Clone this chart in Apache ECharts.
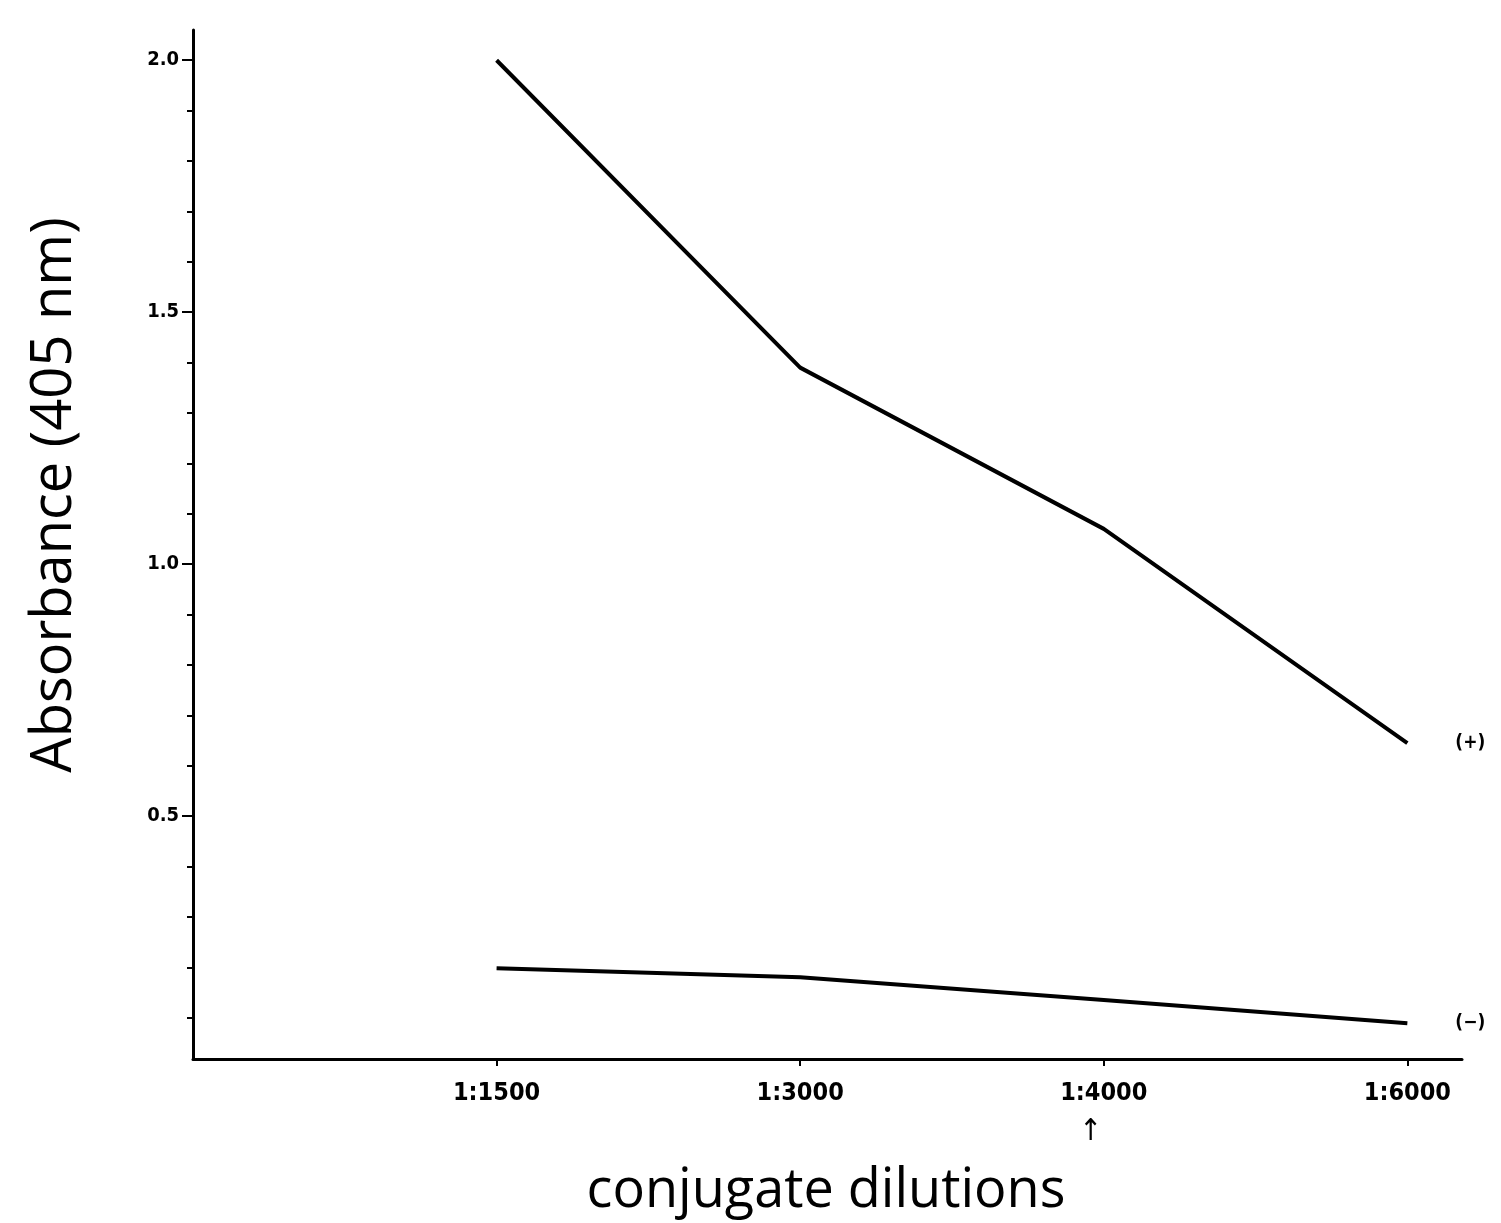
<!DOCTYPE html>
<html><head><meta charset="utf-8">
<script src="https://cdn.jsdelivr.net/npm/echarts@6/dist/echarts.min.js"></script>
<style>html,body{margin:0;padding:0;background:#fff}#c{width:1501px;height:1223px}</style>
</head><body><div id="c"></div>
<script>
const categories = ['1:1500', '1:3000', '1:4000', '1:6000'];
const positiveValues = [2.0, 1.39, 1.07, 0.645];
const negativeValues = [0.198, 0.18, 0.135, 0.089];
const yMajorTicks = [0.5, 1.0, 1.5, 2.0];
const yMinorTicks = [0.1,0.2,0.3,0.4,0.6,0.7,0.8,0.9,1.1,1.2,1.3,1.4,1.6,1.7,1.8,1.9];
const seriesLabels = ['(+)', '(\u2212)'];
const markedCategory = '1:4000';

const chart = echarts.init(document.getElementById('c'));
const catPositions = categories.map((c, i) => i + 1);
const toData = vals => vals.map((v, i) => [catPositions[i], v]);
const fontLbl = "'Liberation Sans Narrow', 'DejaVu Sans Condensed', sans-serif";
const mkSeries = (vals, lbl) => ({
  type: 'line', data: toData(vals), symbol: 'none', silent: true,
  lineStyle: { color: '#000', width: 4 },
  endLabel: { show: true, formatter: lbl, distance: 48, color: '#000',
    fontSize: 19, fontWeight: 'bold', fontFamily: fontLbl }
});
chart.setOption({
  animation: false,
  backgroundColor: '#fff',
  grid: { left: 193, top: 30, right: 39, bottom: 164 },
  xAxis: {
    type: 'value', min: 0, max: 4.18, interval: 1,
    axisLine: { lineStyle: { color: '#000', width: 3 } },
    axisTick: { show: true, length: 7, inside: false, customValues: catPositions, lineStyle: { color: '#000', width: 2 } },
    splitLine: { show: false },
    axisLabel: {
      customValues: catPositions,
      margin: 22, color: '#000', fontSize: 25, fontWeight: 'bold', fontFamily: fontLbl,
      formatter: v => {
        const c = categories[Math.round(v) - 1];
        if (!c) return '';
        return c === markedCategory ? c + '\n{a|\u2191}' : c;
      },
      rich: { a: { fontSize: 30, fontWeight: 'normal', color: '#000', padding: [0, 26, 0, 0], lineHeight: 52 } }
    }
  },
  yAxis: [{
    type: 'value', min: 0.018, max: 2.06,
    axisLine: { show: true, lineStyle: { color: '#000', width: 3 } },
    axisTick: { show: true, length: 11, customValues: yMajorTicks, lineStyle: { color: '#000', width: 2 } },
    splitLine: { show: false },
    axisLabel: { customValues: yMajorTicks, margin: 14, color: '#000', fontSize: 20, fontWeight: 'bold',
      fontFamily: fontLbl, formatter: v => v.toFixed(1) }
  }, {
    type: 'value', min: 0.018, max: 2.06, position: 'left',
    axisLine: { show: false },
    axisTick: { show: true, length: 6, customValues: yMinorTicks, lineStyle: { color: '#000', width: 2 } },
    splitLine: { show: false },
    axisLabel: { show: false }
  }],
  graphic: [
    { type: 'text', rotation: Math.PI / 2, x: 55, y: 495,
      style: { text: 'Absorbance (405 nm)', fontSize: 56, fontFamily: "'Open Sans', sans-serif",
        fill: '#000', align: 'center', verticalAlign: 'middle' } },
    { type: 'text', x: 826, y: 1192,
      style: { text: 'conjugate dilutions', fontSize: 54, fontFamily: "'Open Sans', sans-serif",
        fill: '#000', align: 'center', verticalAlign: 'middle' } }
  ],
  series: [mkSeries(positiveValues, seriesLabels[0]), mkSeries(negativeValues, seriesLabels[1])]
});
</script></body></html>
